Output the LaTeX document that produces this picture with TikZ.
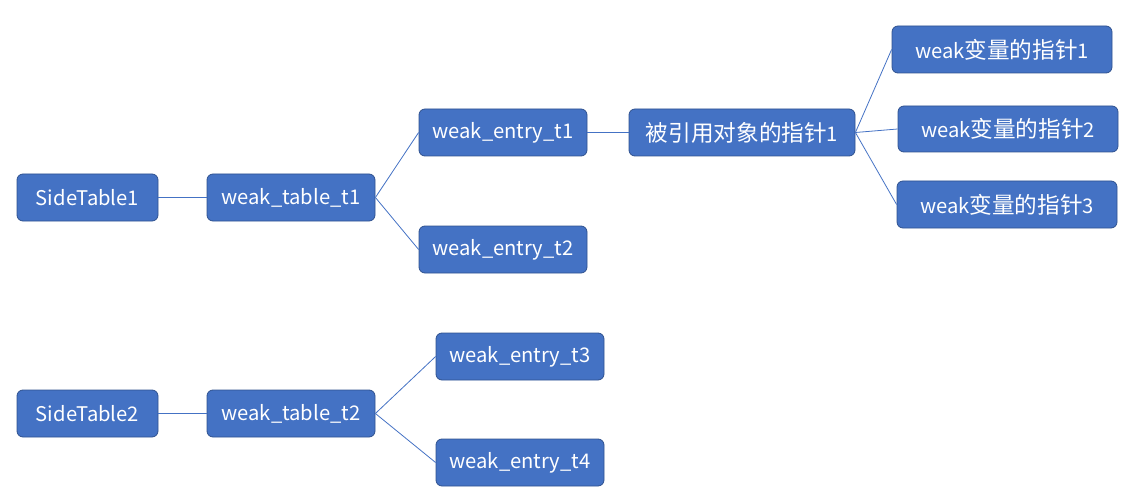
\documentclass[tikz,border=0pt]{standalone}
\usepackage{fontspec}
\setmainfont{Noto Sans CJK SC}
\newfontfamily\cjk[Scale=1.12]{Noto Sans CJK SC}
\definecolor{boxfill}{HTML}{4472C4}
\definecolor{boxline}{HTML}{2F528F}
\definecolor{linkcol}{HTML}{4472C4}
\begin{document}
\begin{tikzpicture}[x=1pt,y=-1pt,
  box/.style={draw=boxline,line width=0.8pt,fill=boxfill,rounded corners=6pt,
    text=white,font=\fontsize{20.2}{23}\selectfont,inner sep=0pt,anchor=center},
  link/.style={draw=linkcol,line width=0.8pt}]
\useasboundingbox (0,0) rectangle (1133,500);
\newcommand{\bx}[6]{\node[box,minimum width=#4,minimum height=#5] (#1) at (#2,#3) {\raisebox{-1.5pt}{#6}};}
\bx{st1}{87.5}{197.5}{141}{47}{SideTable1}
\bx{wt1}{291}{197.5}{168}{47}{weak\_table\_t1}
\bx{we1}{503}{132.5}{168}{47}{weak\_entry\_t1}
\bx{we2}{503}{249.5}{168}{47}{weak\_entry\_t2}
\bx{obj}{742}{132.5}{226}{47}{{\cjk 被引用对象的指针}1}
\bx{wv1}{1002}{49.5}{220}{47}{weak{\cjk 变量的指针}1}
\bx{wv2}{1008}{129}{220}{46}{weak{\cjk 变量的指针}2}
\bx{wv3}{1007}{204.5}{220}{47}{weak{\cjk 变量的指针}3}
\bx{st2}{87.5}{413.5}{141}{47}{SideTable2}
\bx{wt2}{291}{413.5}{168}{47}{weak\_table\_t2}
\bx{we3}{520}{356.5}{168}{47}{weak\_entry\_t3}
\bx{we4}{520}{462.5}{168}{47}{weak\_entry\_t4}
\draw[link] (st1.east) -- (wt1.west);
\draw[link] (wt1.east) -- (we1.west);
\draw[link] (wt1.east) -- (we2.west);
\draw[link] (we1.east) -- (obj.west);
\draw[link] (obj.east) -- (wv1.west);
\draw[link] (obj.east) -- (wv2.west);
\draw[link] (obj.east) -- (wv3.west);
\draw[link] (st2.east) -- (wt2.west);
\draw[link] (wt2.east) -- (we3.west);
\draw[link] (wt2.east) -- (we4.west);
\end{tikzpicture}
\end{document}
